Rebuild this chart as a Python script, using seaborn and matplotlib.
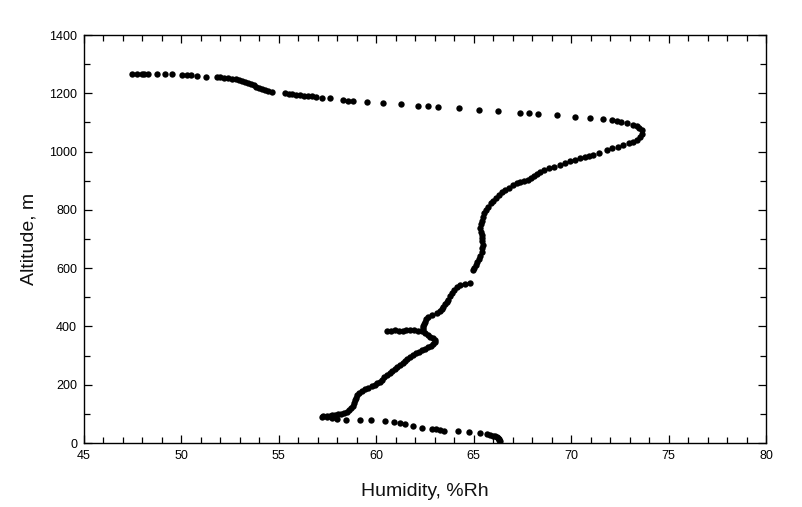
import matplotlib
matplotlib.use("Agg")
import matplotlib.pyplot as plt
from matplotlib.ticker import MultipleLocator
import seaborn as sns
import pandas as pd

# ---- data (humidity %Rh, altitude m) ----
# ascent near ground (sparse dots)
hum_a = [66.35, 66.3, 66.31, 66.25, 66.18, 66.1, 66.0, 65.84, 65.67, 65.34, 64.77, 64.18,
         63.49, 63.29, 63.06, 62.84, 62.36, 61.87, 61.47, 61.22, 60.92, 60.46, 59.74,
         59.16, 58.43, 57.97, 57.71, 57.46, 57.23]
alt_a = [8, 10, 13, 16, 20, 23, 25, 28, 32, 34, 37, 40,
         42, 46, 48, 49, 50, 58, 64, 68, 71, 74, 78,
         78, 80, 83, 86, 88, 90]

# dense profile 90 - 550 m
hum_b = [57.28, 57.45, 57.6, 57.75, 57.9, 58.05, 58.2, 58.35, 58.5, 58.62, 58.72, 58.8,
         58.86, 58.91, 58.97, 59.03, 59.1, 59.25, 59.42, 59.6, 59.78, 59.93, 60.05, 60.17,
         60.28, 60.42, 60.55, 60.68, 60.8, 60.95, 61.08, 61.22, 61.35, 61.48, 61.6, 61.75,
         61.9, 62.05, 62.2, 62.35, 62.5, 62.65, 62.8, 62.92, 63.0, 63.0, 62.9, 62.78, 62.65,
         62.5, 62.35,
         62.15, 61.95, 61.75, 61.55, 61.35, 61.15, 60.95, 60.75, 60.55,
         62.38, 62.4, 62.42, 62.47, 62.5, 62.57, 62.67, 62.85, 63.1, 63.25, 63.35, 63.44,
         63.55, 63.62, 63.7, 63.8, 63.87, 63.98, 64.12, 64.3, 64.55, 64.8]
alt_b = [92, 93, 94, 95, 96, 98, 100, 103, 107, 112, 119, 128,
         137, 147, 156, 164, 171, 178, 184, 189, 194, 199, 205, 211,
         217, 225, 232, 239, 246, 254, 261, 268, 275, 281, 287, 294,
         301, 308, 313, 318, 323, 328, 334, 340, 347, 354, 359, 365, 372,
         378, 383,
         386, 387, 387, 387, 386, 386, 387, 386, 386,
         389, 395, 402, 410, 416, 424, 433, 439, 445, 452, 460, 468,
         476, 484, 491, 503, 514, 526, 536, 542, 546, 548]

# dense profile 590 - 1090 m
hum_c = [64.95, 65.02, 65.1, 65.18, 65.26, 65.33, 65.4, 65.45, 65.48, 65.45, 65.42, 65.4,
         65.35, 65.33, 65.36, 65.42, 65.48, 65.55, 65.65, 65.75, 65.88, 66.0, 66.12, 66.28,
         66.45, 66.62, 66.8, 67.0, 67.2, 67.4, 67.6, 67.8,
         67.95, 68.1, 68.25, 68.4, 68.6, 68.85, 69.1, 69.43, 69.7, 69.95, 70.2, 70.45,
         70.7, 70.9, 71.14, 71.45, 71.82, 72.1, 72.4, 72.68, 72.95, 73.19, 73.38, 73.53,
         73.62, 73.62, 73.5, 73.36]
alt_c = [592, 600, 610, 620, 630, 642, 655, 668, 680, 692, 704, 714,
         725, 737, 750, 763, 776, 788, 800, 811, 822, 832, 841, 850,
         860, 868, 876, 884, 891, 896, 900, 904,
         908, 915, 924, 931, 936, 942, 948, 954, 960, 966, 972, 977,
         982, 985, 988, 996, 1005, 1011, 1017, 1023, 1029, 1034, 1041, 1051,
         1062, 1074, 1082, 1088]

# top return leg (sparse dots, then dense)
hum_d = [73.19, 72.85, 72.55, 72.35, 72.1, 71.65, 70.97, 70.2, 69.26, 68.32, 67.84, 67.37,
         66.26, 65.27, 64.24, 63.15, 62.67, 62.16, 61.27, 60.36, 59.54, 58.82, 58.56, 58.31,
         57.62, 57.2, 56.9, 56.7, 56.5, 56.3, 56.1, 55.9, 55.7, 55.5, 55.32,
         54.63, 54.45, 54.3, 54.15, 54.0, 53.85, 53.7, 53.55, 53.4, 53.25, 53.1, 52.95,
         52.8, 52.6, 52.4, 52.2, 52.0, 51.81, 51.26, 50.78, 50.49, 50.27, 50.01, 49.53,
         49.16, 48.73, 48.3, 48.1, 47.96, 47.7, 47.45]
alt_d = [1091, 1097, 1101, 1104, 1107, 1111, 1116, 1120, 1124, 1128, 1131, 1134,
         1139, 1144, 1148, 1154, 1156, 1158, 1162, 1166, 1171, 1174, 1175, 1177,
         1183, 1185, 1188, 1189, 1190, 1191, 1193, 1195, 1197, 1199, 1201,
         1203, 1207, 1211, 1215, 1219, 1223, 1227, 1231, 1235, 1239, 1242, 1245,
         1248, 1250, 1252, 1254, 1255, 1255, 1257, 1259, 1262, 1263, 1264, 1265,
         1266, 1266, 1266, 1266, 1266, 1266, 1266]

df = pd.DataFrame({
    "humidity": hum_a + hum_b + hum_c + hum_d,
    "altitude": alt_a + alt_b + alt_c + alt_d,
})

sns.set_theme(style="white")
plt.rcParams["font.family"] = ["Liberation Sans", "DejaVu Sans"]

fig = plt.figure(figsize=(8.02, 5.07), dpi=100)
ax = fig.add_axes([84 / 802, 64 / 507, 682 / 802, 408 / 507])

sns.scatterplot(data=df, x="humidity", y="altitude", ax=ax, color="black",
                s=21, linewidth=0, legend=False)

ax.set_xlim(45, 80)
ax.set_ylim(0, 1400)
ax.xaxis.set_major_locator(MultipleLocator(5))
ax.xaxis.set_minor_locator(MultipleLocator(1))
ax.yaxis.set_major_locator(MultipleLocator(200))
ax.yaxis.set_minor_locator(MultipleLocator(100))
ax.tick_params(which="both", direction="in", top=True, right=True, bottom=True, left=True,
               colors="black", labelsize=9, width=0.9)
ax.tick_params(which="major", length=6, pad=5)
ax.tick_params(which="minor", length=4.5)

for sp in ax.spines.values():
    sp.set_color("black")
    sp.set_linewidth(1.0)

ax.set_xlabel("Humidity, %Rh", fontsize=14, color="#111111", labelpad=15)
ax.set_ylabel("Altitude, m", fontsize=14, color="#111111", labelpad=8)

fig.savefig("out.png", dpi=100)
